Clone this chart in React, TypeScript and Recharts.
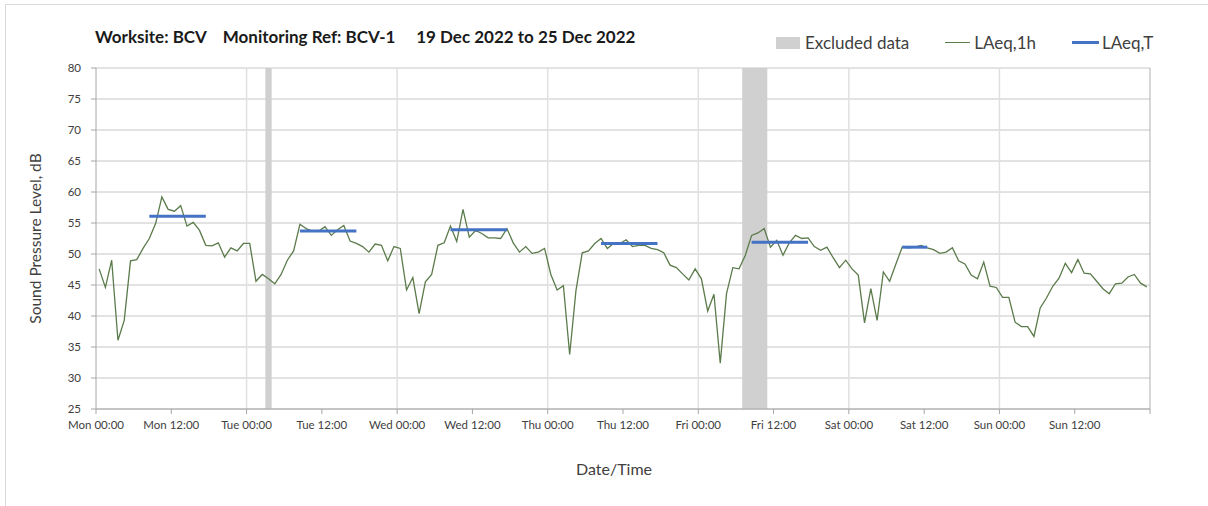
import React from 'react';
import {
  ComposedChart,
  Line,
  XAxis,
  YAxis,
  CartesianGrid,
  ReferenceArea,
  ReferenceLine,
} from 'recharts';

// hourly LAeq,1h values, Mon 00:00 -> Sun 23:00 (plotted mid-hour)
const laeq1h = [
  47.6, 44.6, 49.0, 36.1, 39.3, 48.9, 49.1, 50.9, 52.5, 54.9, 59.2, 57.2,
  56.9, 57.8, 54.5, 55.1, 53.8, 51.4, 51.3, 51.8, 49.5, 51.0, 50.5, 51.7,
  51.7, 45.6, 46.7, 46.0, 45.2, 46.7, 49.0, 50.5, 54.8, 54.1, 53.7, 53.7,
  54.4, 53.0, 53.9, 54.6, 52.1, 51.7, 51.2, 50.3, 51.6, 51.4, 48.9, 51.2,
  50.9, 44.2, 46.2, 40.4, 45.5, 46.7, 51.4, 51.8, 54.5, 52.0, 57.2, 52.7,
  53.8, 53.3, 52.6, 52.6, 52.5, 54.1, 51.8, 50.3, 51.2, 50.1, 50.3, 50.9,
  46.7, 44.2, 44.9, 33.8, 44.1, 50.2, 50.5, 51.7, 52.5, 50.9, 51.7, 51.7,
  52.3, 51.2, 51.4, 51.4, 50.9, 50.7, 50.2, 48.2, 47.8, 46.8, 45.8, 47.6,
  46.0, 40.8, 43.5, 32.4, 43.6, 47.8, 47.6, 49.8, 53.0, 53.4, 54.1, 51.1,
  52.2, 49.8, 51.8, 53.0, 52.5, 52.6, 51.2, 50.6, 51.1, 49.4, 47.8, 49.0,
  47.6, 46.6, 38.9, 44.4, 39.3, 47.1, 45.6, 48.4, 51.1, 51.0, 51.1, 51.4,
  51.0, 50.7, 50.1, 50.3, 51.0, 48.9, 48.4, 46.6, 46.0, 48.7, 44.8, 44.6,
  43.0, 43.0, 39.0, 38.3, 38.3, 36.7, 41.3, 42.9, 44.8, 46.1, 48.5, 47.0,
  49.1, 46.9, 46.8, 45.6, 44.4, 43.6, 45.2, 45.3, 46.3, 46.7, 45.3, 44.7,
];

// LAeq,T periods (hours from Mon 00:00)
const periodStart = [8.5, 32.5, 56.5, 80.5, 104.5, 128.5];
const periodEnd = [17.5, 41.5, 65.5, 89.5, 113.5, 132.5];
const periodValue = [56.1, 53.7, 53.9, 51.7, 51.9, 51.1];

// excluded data windows (hours)
const excludedStart = [27, 103];
const excludedEnd = [28, 107];

const dayNames = ['Mon', 'Tue', 'Wed', 'Thu', 'Fri', 'Sat', 'Sun'];
const xTicks = [0, 12, 24, 36, 48, 60, 72, 84, 96, 108, 120, 132, 144, 156, 168];
const yTicks = [25, 30, 35, 40, 45, 50, 55, 60, 65, 70, 75, 80];
const dayLines = [24, 48, 72, 96, 120, 144];

const lineData = laeq1h.map((v, i) => ({ t: i + 0.5, v }));

const FONT = 'Lato, "Noto Sans", sans-serif';

const fmtTick = (h: number) => {
  if (h >= 168) return '';
  const d = Math.floor(h / 24);
  const hh = h % 24;
  return `${dayNames[d]} ${hh === 0 ? '00' : '12'}:00`;
};

const LegendBox = () => (
  <div
    style={{
      position: 'absolute',
      left: 776,
      top: 32,
      display: 'flex',
      alignItems: 'center',
      fontFamily: FONT,
      fontSize: 17,
      color: '#404040',
      whiteSpace: 'nowrap',
    }}
  >
    <span style={{ display: 'inline-block', width: 24, height: 12, background: '#d0d0d0', marginRight: 5 }} />
    <span style={{ marginRight: 36 }}>Excluded data</span>
    <span style={{ display: 'inline-block', width: 25, height: 1.5, background: '#5b7b4b', marginRight: 4 }} />
    <span style={{ marginRight: 36 }}>LAeq,1h</span>
    <span style={{ display: 'inline-block', width: 27, height: 3, background: '#4472c4', marginRight: 3 }} />
    <span>LAeq,T</span>
  </div>
);

const App: React.FC = () => {
  return (
    <div style={{ position: 'absolute', left: 0, top: 0, width: 1208, height: 506, background: '#fff', overflow: 'hidden' }}>
      <div
        style={{
          position: 'absolute',
          left: 5,
          top: 4,
          width: 1210,
          height: 510,
          borderLeft: '1px solid #d9d9d9',
          borderTop: '1px solid #d9d9d9',
        }}
      />
      <div
        style={{
          position: 'absolute',
          left: 95,
          top: 26,
          fontFamily: FONT,
          fontWeight: 'bold',
          fontSize: 17,
          color: '#1a1a1a',
          whiteSpace: 'pre',
        }}
      >
        {'Worksite: BCV    Monitoring Ref: BCV-1     19 Dec 2022 to 25 Dec 2022'}
      </div>
      <LegendBox />
      <ComposedChart
        width={1208}
        height={506}
        margin={{ top: 68, right: 58, bottom: 67, left: 0 }}
        style={{ position: 'absolute', left: 0, top: 0 }}
      >
        <CartesianGrid vertical={false} stroke="#c6c6c6" />
        {dayLines.map((d) => (
          <ReferenceLine key={d} x={d} stroke="#e0e0e0" strokeWidth={1.5} />
        ))}
        <ReferenceLine x={168} stroke="#b0b0b0" />
        {excludedStart.map((s, i) => (
          <ReferenceArea key={s} x1={s} x2={excludedEnd[i]} fill="#d0d0d0" fillOpacity={1} stroke="none" />
        ))}
        <XAxis
          dataKey="t"
          type="number"
          domain={[0, 168]}
          ticks={xTicks}
          tickFormatter={fmtTick}
          interval={0}
          allowDataOverflow
          height={30}
          stroke="#a6a6a6"
          tickSize={5}
          tickMargin={7}
          tick={{ fill: '#404040', fontSize: 11.5, fontFamily: FONT }}
          label={{
            value: 'Date/Time',
            position: 'insideBottom',
            offset: -36,
            dx: -9,
            style: { fill: '#404040', fontSize: 16, fontFamily: FONT },
          }}
        />
        <YAxis
          type="number"
          domain={[25, 80]}
          ticks={yTicks}
          interval={0}
          width={96}
          stroke="#a6a6a6"
          tickSize={5}
          tickMargin={10}
          tick={{ fill: '#404040', fontSize: 11.5, fontFamily: FONT }}
          label={{
            value: 'Sound Pressure Level, dB',
            angle: -90,
            position: 'insideLeft',
            offset: 0,
            dx: 35,
            style: { textAnchor: 'middle', fill: '#404040', fontSize: 15.5, fontFamily: FONT },
          }}
        />
        <Line
          data={lineData}
          dataKey="v"
          type="linear"
          stroke="#5b7b4b"
          strokeWidth={1.3}
          dot={false}
          isAnimationActive={false}
        />
        {periodStart.map((s, i) => (
          <Line
            key={s}
            data={[
              { t: s, v: periodValue[i] },
              { t: periodEnd[i], v: periodValue[i] },
            ]}
            dataKey="v"
            type="linear"
            stroke="#4472c4"
            strokeWidth={3}
            dot={false}
            isAnimationActive={false}
          />
        ))}
      </ComposedChart>
    </div>
  );
};

export default App;
